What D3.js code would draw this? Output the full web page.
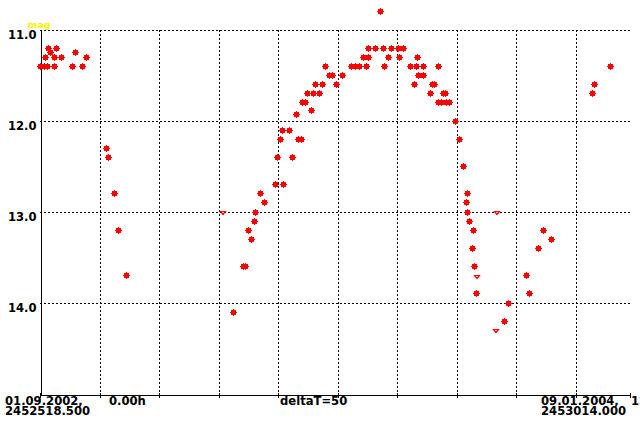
<!DOCTYPE html>
<html>
<head>
<meta charset="utf-8">
<script src="https://cdn.jsdelivr.net/npm/d3@7"></script>
<style>
  html, body { margin: 0; padding: 0; background: #ffffff; }
  svg { display: block; }
  text { font-family: "DejaVu Sans", sans-serif; font-weight: bold; }
</style>
</head>
<body>
<script>
// ---- data ----
const startJD = 2452518.5;
const endJD = 2453014.0;
const deltaT = 50;
const yTicks = [11, 12, 13, 14];

// observations: day offset from start JD, magnitude
const obsDays = [
  0.8, 3.4, 6.3, 12.0, 27.1, 35.5,
  4.6, 12.0, 18.1, 38.9,
  8.8, 29.6,
  7.0, 13.7,
  55.7, 57.4, 62.4, 65.8, 72.5,
  162.3, 170.5, 173.0, 174.9, 177.5, 179.9, 180.8, 185.0, 188.4, 197.6,
  199.3, 201.8, 203.5, 204.3, 209.4, 211.9, 215.2, 216.7, 219.2, 220.6,
  222.8, 224.5, 229.5, 234.6, 227.8, 231.2, 237.1, 248.8, 239.6, 243.0,
  245.5, 253.9, 261.8, 264.8, 268.7, 274.0, 271.5, 276.3, 275.7, 281.9,
  288.3, 295.0, 300.9, 305.1, 285.8, 289.2, 292.9, 301.8, 311.0, 316.0,
  321.9, 316.9, 314.3, 317.9, 322.1, 327.8, 329.6, 331.7, 334.5, 334.5,
  336.8, 341.6, 343.7, 338.7, 340.7, 348.8, 352.3, 355.5, 358.1, 358.9,
  358.9, 360.3, 363.1, 363.9, 364.8, 366.4, 389.9, 393.3, 408.4, 411.5,
  418.5, 422.7, 429.4, 463.8, 465.5, 479.0
];
const obsMags = [
  11.4, 11.4, 11.4, 11.4, 11.4, 11.4,
  11.3, 11.3, 11.3, 11.3,
  11.25, 11.25,
  11.2, 11.2,
  12.3, 12.4, 12.8, 13.2, 13.7,
  14.1, 13.6, 13.6, 13.2, 13.3, 13.1, 13.0, 12.8, 12.9, 12.7,
  12.4, 12.2, 12.1, 12.7, 12.1, 12.4, 11.93, 12.2, 12.2, 11.8,
  11.8, 11.7, 11.7, 11.7, 11.88, 11.6, 11.6, 11.6, 11.4, 11.5,
  11.5, 11.5, 11.4, 11.4, 11.4, 11.4, 11.3, 11.3, 11.2, 11.2,
  11.2, 11.2, 11.2, 11.2, 10.8, 11.4, 11.3, 11.3, 11.4, 11.4,
  11.4, 11.3, 11.6, 11.5, 11.5, 11.7, 11.6, 11.6, 11.4, 11.8,
  11.8, 11.8, 11.8, 11.7, 11.7, 12.0, 12.2, 12.5, 12.9, 12.8,
  13.0, 13.1, 13.4, 13.2, 13.6, 13.9, 14.2, 14.0, 13.7, 13.9,
  13.4, 13.2, 13.3, 11.7, 11.6, 11.4
];

// "fainter than" upper limits
const limitDays = [153.9, 367.3, 384.1, 383.2];
const limitMags = [13.0, 13.7, 13.0, 14.3];

const startLabel = ["01.09.2002,", "0.00h", "2452518.500"];
const endLabel = ["09.01.2004,", "12.00h", "2453014.000"];
const centerLabel = "deltaT=50";
const yTitle = "mag";

// ---- chart ----
const W = 640, H = 424;
const svg = d3.select("body").append("svg").attr("width", W).attr("height", H);

const x = d3.scaleLinear().domain([startJD, endJD]).range([40, 630]);
const y = d3.scaleLinear().domain([11, 15]).range([30, 394]);

const xTickVals = d3.range(startJD, endJD, deltaT).concat([endJD]);
const gridX = d3.range(startJD + deltaT, endJD, deltaT);

// grid
const grid = svg.append("g").attr("shape-rendering", "crispEdges")
  .attr("stroke", "#000").attr("stroke-width", 1).attr("stroke-dasharray", "2,2");
grid.selectAll("line.h").data(yTicks).join("line").attr("class", "h")
  .attr("x1", 40).attr("x2", 632)
  .attr("y1", d => Math.round(y(d)) + 0.5).attr("y2", d => Math.round(y(d)) + 0.5);
grid.selectAll("line.v").data(gridX).join("line").attr("class", "v")
  .attr("x1", d => Math.round(x(d)) + 0.5).attr("x2", d => Math.round(x(d)) + 0.5)
  .attr("y1", 30).attr("y2", 394);

// x axis
const xAxis = svg.append("g").attr("transform", "translate(0,394.5)")
  .attr("shape-rendering", "crispEdges")
  .call(d3.axisBottom(x).tickValues(xTickVals).tickSizeInner(3).tickSizeOuter(0).tickFormat(""));
xAxis.select(".domain").attr("stroke", "#000");
xAxis.selectAll(".tick line").attr("y1", -2).attr("y2", 3).attr("stroke", "#000");
xAxis.selectAll(".tick").attr("transform", d => `translate(${Math.round(x(d)) + 0.5},0)`);

// y axis
const yAxis = svg.append("g").attr("transform", "translate(40.5,0)")
  .attr("shape-rendering", "crispEdges")
  .call(d3.axisLeft(y).tickValues(yTicks).tickSize(0).tickFormat(d3.format(".1f")));
yAxis.select(".domain").attr("stroke", "#000");
yAxis.selectAll(".tick text")
  .attr("x", -4).attr("dy", null).attr("y", 8.5)
  .attr("font-family", "DejaVu Sans").attr("font-weight", "bold")
  .attr("font-size", "11.6px").attr("fill", "#000");

// y title
svg.append("text").attr("x", 27.5).attr("y", 28).attr("font-size", "9.5px")
  .attr("fill", "#f4f400").text(yTitle);

// bottom labels
const lab = svg.append("g").attr("font-size", "11.6px").attr("fill", "#000");
lab.append("text").attr("x", 5).attr("y", 405).text(startLabel[0]);
lab.append("text").attr("x", 109).attr("y", 405).text(startLabel[1]);
lab.append("text").attr("x", 5).attr("y", 415).text(startLabel[2]);
lab.append("text").attr("x", 280).attr("y", 405).text(centerLabel);
lab.append("text").attr("x", 541).attr("y", 405).text(endLabel[0]);
lab.append("text").attr("x", 631).attr("y", 405).text(endLabel[1]);
lab.append("text").attr("x", 541).attr("y", 415).text(endLabel[2]);

// markers
function starPath(cx, cy) {
  const px = Math.floor(cx), py = Math.floor(cy);
  return `M${px},${py-3}H${px+1}V${py-2}H${px+3}V${py}H${px+4}V${py+1}H${px+3}V${py+3}H${px+1}V${py+4}H${px}V${py+3}H${px-2}V${py+1}H${px-3}V${py}H${px-2}V${py-2}H${px}Z`;
}
const obs = obsDays.map((d, i) => ({ jd: startJD + d, mag: obsMags[i] }));
svg.append("g").attr("shape-rendering", "crispEdges")
  .selectAll("path").data(obs).join("path")
  .attr("d", d => starPath(x(d.jd), y(d.mag)))
  .attr("fill", "#ff0000");

const lim = limitDays.map((d, i) => ({ jd: startJD + d, mag: limitMags[i] }));
svg.append("g")
  .selectAll("path").data(lim).join("path")
  .attr("d", d => {
    const px = Math.round(x(d.jd)), py = Math.round(y(d.mag));
    return `M${px-2.5},${py-0.5}L${px+2.5},${py-0.5}L${px},${py+2.5}Z`;
  })
  .attr("fill", "#fff").attr("stroke", "#ff0000").attr("stroke-width", 1.2);
</script>
</body>
</html>
